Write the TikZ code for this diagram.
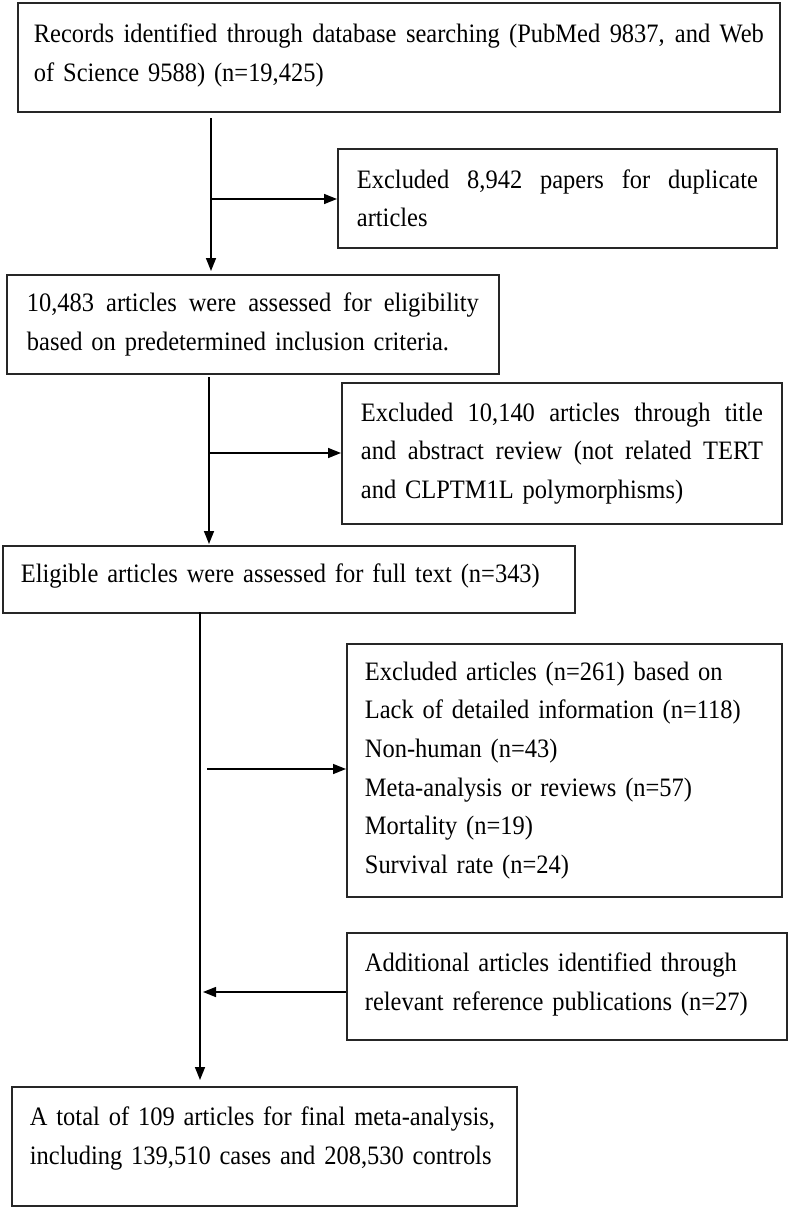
\documentclass[tikz,border=0pt]{standalone}
\usepackage{fontspec}
\setmainfont{Liberation Serif}[FakeStretch=0.92]
\usetikzlibrary{arrows.meta,calc}
\newcommand\jline[2]{\leavevmode\hbox to #1{\spaceskip=0.25em plus 1fil\relax\xspaceskip=\spaceskip #2}}
\tikzset{
  box/.style={draw=black!85, line width=1.8pt, rectangle, anchor=north west,
    align=left, inner ysep=0pt,
    font=\fontsize{26.6}{38.6}\selectfont},
  arr/.style={line width=1.5pt, -{Triangle[length=13pt,width=10pt]}}
}
\begin{document}
\begin{tikzpicture}[x=1pt,y=1pt]
\useasboundingbox (0,0) rectangle (787,-1207);
% boxes: text width = w - 2*pad
\node[box, inner xsep=16pt, text width=730pt, minimum height=109pt, text depth=48pt] (b1) at (17,-2)
  {\jline{730pt}{Records identified through database searching (PubMed 9837, and Web}\\of Science 9588) (n=19,425)};
\node[box, inner xsep=19pt, text width=401pt, minimum height=99pt] (b2) at (337,-148)
  {\jline{401pt}{Excluded 8,942 papers for duplicate}\\articles};
\node[box, inner xsep=20pt, text width=452pt, minimum height=99pt] (b3) at (6,-274)
  {\jline{452pt}{10,483 articles were assessed for eligibility}\\based on predetermined inclusion criteria.};
\node[box, inner xsep=19pt, text width=402pt, minimum height=141pt] (b4) at (341,-382)
  {\jline{402pt}{Excluded 10,140 articles through title}\\\jline{402pt}{and abstract review (not related TERT}\\and CLPTM1L polymorphisms)};
\node[box, inner xsep=18pt, text width=536pt, minimum height=67pt, text depth=12pt] (b5) at (2,-545)
  {Eligible articles were assessed for full text (n=343)};
\node[box, inner xsep=18pt, text width=399pt, minimum height=253pt] (b6) at (346,-643)
  {Excluded articles (n=261) based on\\Lack of detailed information (n=118)\\Non-human (n=43)\\Meta-analysis or reviews (n=57)\\Mortality (n=19)\\Survival rate (n=24)};
\node[box, inner xsep=18pt, text width=404pt, minimum height=107pt, text depth=48pt] (b7) at (346,-932)
  {Additional articles identified through\\relevant reference publications (n=27)};
\node[box, inner xsep=18pt, text width=469pt, minimum height=119pt, text depth=60pt] (b8) at (11,-1086)
  {A total of 109 articles for final meta-analysis,\\including 139,510 cases and 208,530 controls};
% connectors
\coordinate (s1) at (211,-118);
\coordinate (j1) at (211,-199);
\draw[arr] (s1) -- ($(s1 |- b3.north)+(0,3)$);
\draw[arr] (j1) -- (j1 -| b2.west);
\coordinate (s2) at (209,-377);
\coordinate (j2) at (209,-453);
\draw[arr] (s2) -- ($(s2 |- b5.north)+(0,1)$);
\draw[arr] (j2) -- (j2 -| b4.west);
\coordinate (s3) at (200,-612);
\coordinate (j3) at (207,-769);
\coordinate (m3) at (203,-992);
\draw[arr] (s3) -- ($(s3 |- b8.north)+(0,6)$);
\draw[arr] (j3) -- (j3 -| b6.west);
\draw[arr] (m3 -| b7.west) -- (m3);
\end{tikzpicture}
\end{document}
